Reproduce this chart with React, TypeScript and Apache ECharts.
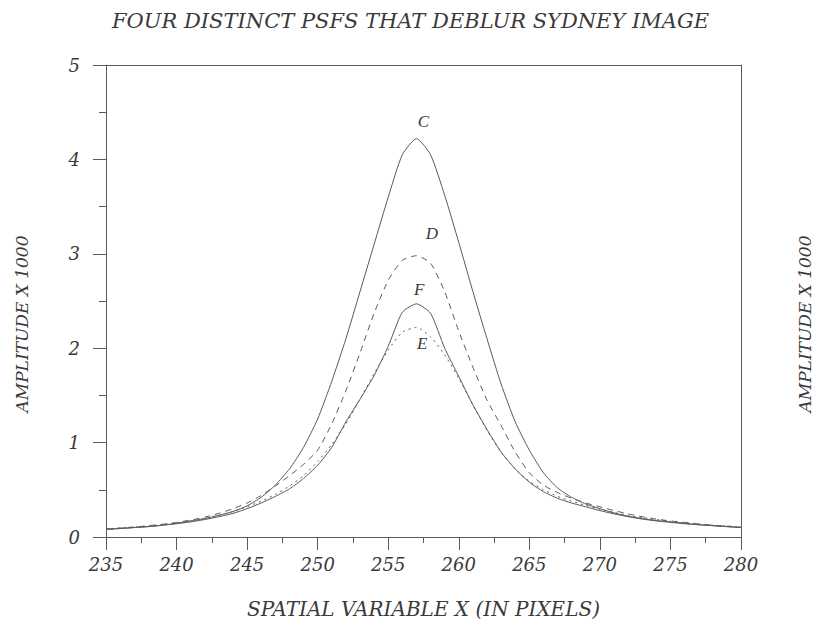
import React, { useEffect, useRef } from "react";
import * as echarts from "echarts";

const TITLE = "FOUR DISTINCT PSFS THAT DEBLUR SYDNEY IMAGE";
const X_NAME = "SPATIAL VARIABLE X (IN PIXELS)";
const Y_NAME = "AMPLITUDE X 1000";

const xValues = [
  235, 236, 237, 238, 239, 240, 241, 242, 243, 244, 245, 246, 247, 248, 249, 250,
  251, 252, 253, 254, 255, 256, 257, 258, 259, 260, 261, 262, 263, 264, 265, 266,
  267, 268, 269, 270, 271, 272, 273, 274, 275, 276, 277, 278, 279, 280,
];

const cValues = [
  0.08, 0.09, 0.1, 0.11, 0.125, 0.145, 0.17, 0.195, 0.23, 0.27, 0.33, 0.42, 0.55, 0.72, 0.95, 1.25,
  1.65, 2.1, 2.6, 3.1, 3.6, 4.05, 4.22, 4.05, 3.62, 3.12, 2.6, 2.1, 1.62, 1.22, 0.92, 0.68,
  0.52, 0.42, 0.35, 0.3, 0.255, 0.22, 0.195, 0.175, 0.16, 0.145, 0.13, 0.12, 0.11, 0.1,
];

const dValues = [
  0.085, 0.095, 0.105, 0.12, 0.135, 0.155, 0.18, 0.21, 0.25, 0.3, 0.36, 0.44, 0.54, 0.65, 0.77, 0.92,
  1.2, 1.55, 1.95, 2.37, 2.72, 2.93, 2.98, 2.9, 2.6, 2.18, 1.8, 1.45, 1.18, 0.9, 0.68, 0.55,
  0.47, 0.41, 0.36, 0.32, 0.28, 0.245, 0.215, 0.19, 0.17, 0.155, 0.14, 0.125, 0.115, 0.105,
];

const eValues = [
  0.085, 0.095, 0.105, 0.115, 0.13, 0.15, 0.17, 0.195, 0.23, 0.27, 0.32, 0.38, 0.45, 0.54, 0.65, 0.8,
  0.98, 1.2, 1.46, 1.73, 1.98, 2.17, 2.22, 2.12, 1.93, 1.68, 1.4, 1.13, 0.9, 0.72, 0.59, 0.5,
  0.43, 0.38, 0.335, 0.295, 0.26, 0.23, 0.205, 0.185, 0.165, 0.15, 0.135, 0.125, 0.115, 0.105,
];

const fValues = [
  0.08, 0.09, 0.1, 0.11, 0.125, 0.14, 0.16, 0.185, 0.215, 0.25, 0.3, 0.36, 0.43, 0.51, 0.62, 0.76,
  0.95, 1.22, 1.46, 1.71, 2.02, 2.38, 2.47, 2.37, 2.0, 1.7, 1.4, 1.14, 0.9, 0.72, 0.58, 0.48,
  0.41, 0.36, 0.32, 0.28, 0.245, 0.215, 0.19, 0.17, 0.155, 0.14, 0.13, 0.12, 0.11, 0.1,
];

// curve labels: [name, x, y]
const curveLabels: [string, number, number][] = [
  ["C", 257.5, 4.4],
  ["D", 258.1, 3.22],
  ["F", 257.2, 2.62],
  ["E", 257.4, 2.05],
];

const FONT = "'DejaVu Serif', 'Liberation Serif', serif";
const INK = "#3a3a3a";
const LINE = "#5a5a5a";

function pairs(ys: number[]) {
  return xValues.map((x, i) => [x, ys[i]]);
}

function makeSeries(name: string, ys: number[], dash: any) {
  const lbl = curveLabels.find((l) => l[0] === name)!;
  return {
    name,
    type: "line",
    data: pairs(ys),
    smooth: 0.2,
    showSymbol: false,
    symbol: "none",
    lineStyle: { color: LINE, width: 1, type: dash },
    markPoint: {
      symbol: "circle",
      symbolSize: 0,
      silent: true,
      data: [{ coord: [lbl[1], lbl[2]] }],
      label: {
        show: true,
        position: "inside",
        formatter: name,
        fontFamily: "'Liberation Serif', serif",
        fontStyle: "italic",
        fontSize: 17,
        color: INK,
      },
    },
  };
}

export default function App() {
  const ref = useRef<HTMLDivElement>(null);
  useEffect(() => {
    if (!ref.current) return;
    const chart = echarts.init(ref.current, null, { renderer: "svg" });
    const axisText = {
      fontFamily: FONT,
      fontStyle: "italic",
      fontSize: 18,
      color: INK,
    };
    const nameStyle = {
      fontFamily: FONT,
      fontStyle: "italic",
      fontSize: 17,
      fill: INK,
    };
    chart.setOption({
      animation: false,
      backgroundColor: "#fff",
      title: {
        text: TITLE,
        left: "center",
        top: 5,
        textStyle: {
          fontFamily: FONT,
          fontStyle: "italic",
          fontWeight: "normal",
          fontSize: 21,
          color: INK,
        },
      },
      grid: { left: 106, right: 80, top: 65, bottom: 98, containLabel: false },
      xAxis: [
        {
          type: "value",
          min: 235,
          max: 280,
          interval: 5,
          name: X_NAME,
          nameLocation: "middle",
          nameGap: 62,
          nameTextStyle: {
            fontFamily: FONT,
            fontStyle: "italic",
            fontSize: 20,
            color: INK,
          },
          axisLine: { show: true, onZero: false, lineStyle: { color: LINE, width: 1 } },
          axisTick: { show: true, length: 13, lineStyle: { color: LINE } },
          minorTick: { show: true, splitNumber: 2, length: 6, lineStyle: { color: LINE } },
          splitLine: { show: false },
          axisLabel: { ...axisText, margin: 18 },
        },
        {
          type: "value",
          position: "top",
          min: 235,
          max: 280,
          axisLine: { show: true, onZero: false, lineStyle: { color: LINE, width: 1 } },
          axisTick: { show: false },
          axisLabel: { show: false },
          splitLine: { show: false },
        },
      ],
      yAxis: [
        {
          type: "value",
          min: 0,
          max: 5,
          interval: 1,
          axisLine: { show: true, onZero: false, lineStyle: { color: LINE, width: 1 } },
          axisTick: { show: true, length: 13, lineStyle: { color: LINE } },
          minorTick: { show: true, splitNumber: 2, length: 7, lineStyle: { color: LINE } },
          splitLine: { show: false },
          axisLabel: { ...axisText, margin: 26 },
        },
        {
          type: "value",
          position: "right",
          min: 0,
          max: 5,
          axisLine: { show: true, onZero: false, lineStyle: { color: LINE, width: 1 } },
          axisTick: { show: false },
          axisLabel: { show: false },
          splitLine: { show: false },
        },
      ],
      graphic: [
        {
          type: "text",
          x: 22,
          y: 324,
          rotation: Math.PI / 2,
          style: { ...nameStyle, text: Y_NAME, align: "center", verticalAlign: "middle" },
        },
        {
          type: "text",
          x: 805,
          y: 324,
          rotation: Math.PI / 2,
          style: { ...nameStyle, text: Y_NAME, align: "center", verticalAlign: "middle" },
        },
      ],
      series: [
        makeSeries("C", cValues, "solid"),
        makeSeries("D", dValues, [6, 5]),
        makeSeries("E", eValues, [2, 4]),
        makeSeries("F", fValues, "solid"),
      ],
    });
    return () => chart.dispose();
  }, []);
  return (
    <div
      ref={ref}
      style={{ position: "fixed", left: 0, top: 0, width: 821, height: 635, background: "#fff" }}
    />
  );
}
